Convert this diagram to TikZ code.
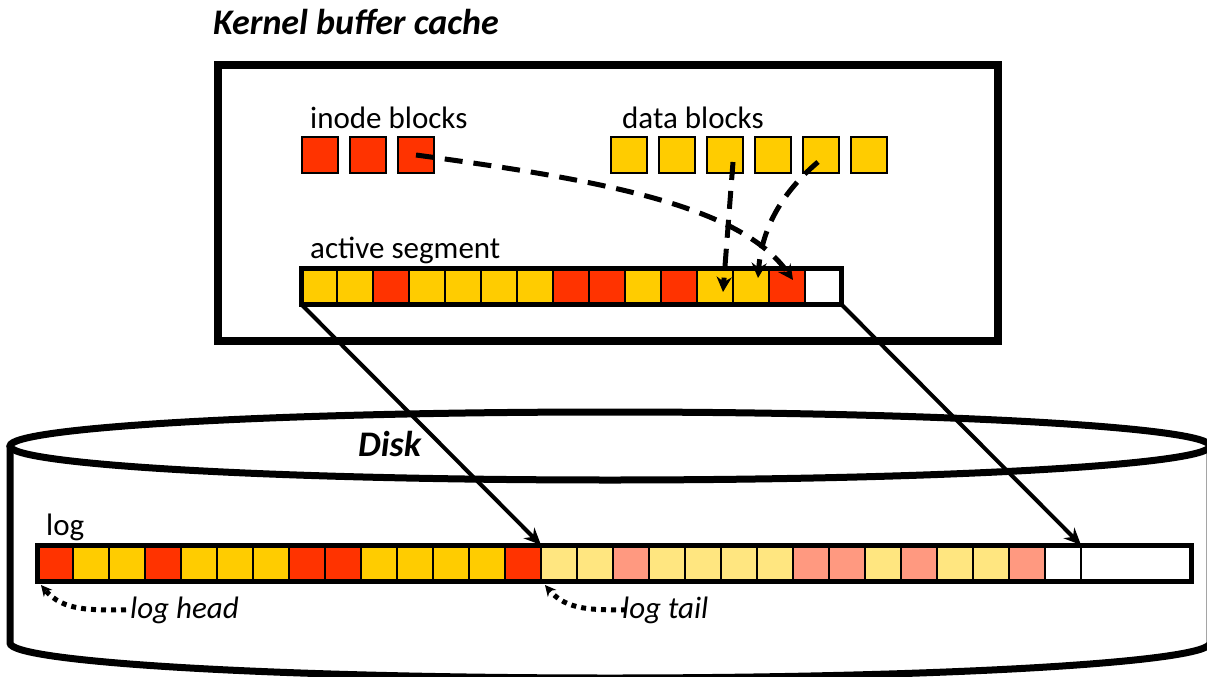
\documentclass[tikz,border=0pt]{standalone}
\usepackage{fontspec}
\setmainfont{Carlito}
\usetikzlibrary{positioning,arrows.meta}

\definecolor{blockred}{HTML}{FF3300}
\definecolor{blockyellow}{HTML}{FFCC00}
\definecolor{palered}{HTML}{FF9980}
\definecolor{paleyellow}{HTML}{FFE680}

\tikzset{
  blk/.style={draw, line width=2pt, minimum size=36pt, inner sep=0pt, outer sep=0pt},
  cell/.style={draw, line width=2.5pt, minimum width=36pt, minimum height=36pt, inner sep=0pt, outer sep=0pt},
  lbl/.style={anchor=base west, inner sep=0pt, font=\fontsize{31}{37}\selectfont},
  itlbl/.style={lbl, font=\fontsize{31}{37}\selectfont\itshape},
  ttl/.style={anchor=base west, inner sep=0pt, font=\fontsize{36}{43}\selectfont\bfseries\itshape},
  disk/.style={line width=7pt},
  maparrow/.style={line width=4pt, -{Stealth[length=17pt,width=15pt]}},
  dasharrow/.style={line width=5pt, dash pattern=on 18pt off 11pt, -{Stealth[length=15pt,width=15pt]}},
  dotarrow/.style={line width=5pt, dash pattern=on 5pt off 5pt, -{Stealth[length=11pt,width=11pt]}}
}

\begin{document}
\begin{tikzpicture}[x=1pt, y=-1pt]
\useasboundingbox (0,0) rectangle (1207,677);

% kernel buffer cache
\node[ttl] (ttl) at (213,35) {Kernel buffer cache};
\draw[line width=8pt] (218,65) rectangle (998,341);

\node[lbl] (inodelbl) at (310,128) {inode blocks};
\node[blk, fill=blockred] (inode1) at (320,155) {};
\node[blk, fill=blockred, right=12pt of inode1] (inode2) {};
\node[blk, fill=blockred, right=12pt of inode2] (inode3) {};

\node[lbl] (datalbl) at (622,128) {data blocks};
\node[blk, fill=blockyellow] (data1) at (629,155) {};
\node[blk, fill=blockyellow, right=12pt of data1] (data2) {};
\node[blk, fill=blockyellow, right=12pt of data2] (data3) {};
\node[blk, fill=blockyellow, right=12pt of data3] (data4) {};
\node[blk, fill=blockyellow, right=12pt of data4] (data5) {};
\node[blk, fill=blockyellow, right=12pt of data5] (data6) {};

% active segment
\node[lbl] (seglbl) at (310,258) {active segment};
\node[cell, fill=blockyellow] (seg1) at (319,286) {};
\node[cell, fill=blockyellow, right=0pt of seg1] (seg2) {};
\node[cell, fill=blockred, right=0pt of seg2] (seg3) {};
\node[cell, fill=blockyellow, right=0pt of seg3] (seg4) {};
\node[cell, fill=blockyellow, right=0pt of seg4] (seg5) {};
\node[cell, fill=blockyellow, right=0pt of seg5] (seg6) {};
\node[cell, fill=blockyellow, right=0pt of seg6] (seg7) {};
\node[cell, fill=blockred, right=0pt of seg7] (seg8) {};
\node[cell, fill=blockred, right=0pt of seg8] (seg9) {};
\node[cell, fill=blockyellow, right=0pt of seg9] (seg10) {};
\node[cell, fill=blockred, right=0pt of seg10] (seg11) {};
\node[cell, fill=blockyellow, right=0pt of seg11] (seg12) {};
\node[cell, fill=blockyellow, right=0pt of seg12] (seg13) {};
\node[cell, fill=blockred, right=0pt of seg13] (seg14) {};
\node[cell, fill=white, right=0pt of seg14] (seg15) {};
\draw[line width=5pt] (seg1.north west) rectangle (seg15.south east);

% disk
\draw[disk] (610,446) ellipse [x radius=600pt, y radius=34pt];
\draw[disk] (10,446) -- (10,643) arc[start angle=180, end angle=360, x radius=600pt, y radius=35pt] -- (1210,446);
\node[ttl] (disklbl) at (358,456) {Disk};

% log
\node[lbl] (loglbl) at (46,535) {log};
\node[cell, fill=blockred] (log1) at (55,563) {};
\node[cell, fill=blockyellow, right=0pt of log1] (log2) {};
\node[cell, fill=blockyellow, right=0pt of log2] (log3) {};
\node[cell, fill=blockred, right=0pt of log3] (log4) {};
\node[cell, fill=blockyellow, right=0pt of log4] (log5) {};
\node[cell, fill=blockyellow, right=0pt of log5] (log6) {};
\node[cell, fill=blockyellow, right=0pt of log6] (log7) {};
\node[cell, fill=blockred, right=0pt of log7] (log8) {};
\node[cell, fill=blockred, right=0pt of log8] (log9) {};
\node[cell, fill=blockyellow, right=0pt of log9] (log10) {};
\node[cell, fill=blockyellow, right=0pt of log10] (log11) {};
\node[cell, fill=blockyellow, right=0pt of log11] (log12) {};
\node[cell, fill=blockyellow, right=0pt of log12] (log13) {};
\node[cell, fill=blockred, right=0pt of log13] (log14) {};

\node[cell, fill=paleyellow, right=0pt of log14] (log15) {};
\node[cell, fill=paleyellow, right=0pt of log15] (log16) {};
\node[cell, fill=palered, right=0pt of log16] (log17) {};
\node[cell, fill=paleyellow, right=0pt of log17] (log18) {};
\node[cell, fill=paleyellow, right=0pt of log18] (log19) {};
\node[cell, fill=paleyellow, right=0pt of log19] (log20) {};
\node[cell, fill=paleyellow, right=0pt of log20] (log21) {};
\node[cell, fill=palered, right=0pt of log21] (log22) {};
\node[cell, fill=palered, right=0pt of log22] (log23) {};
\node[cell, fill=paleyellow, right=0pt of log23] (log24) {};
\node[cell, fill=palered, right=0pt of log24] (log25) {};
\node[cell, fill=paleyellow, right=0pt of log25] (log26) {};
\node[cell, fill=paleyellow, right=0pt of log26] (log27) {};
\node[cell, fill=palered, right=0pt of log27] (log28) {};
\node[cell, fill=white, right=0pt of log28] (log29) {};
\node[cell, fill=white, minimum width=110pt, right=0pt of log29] (log30) {};
\draw[line width=5pt] (log1.north west) rectangle (log30.south east);

\node[itlbl] (lhead) at (130,618) {log head};
\node[itlbl] (ltail) at (622,618) {log tail};

% arrows
\draw[dasharrow] (inode3.center) .. controls (600,180) and (740,205) .. ([shift={(6,-6)}]seg14.center);
\draw[dasharrow] ([shift={(8,7)}]data3.center) -- ([shift={(8,6)}]seg12.center);
\draw[dasharrow] ([shift={(-3,7)}]data5.center) .. controls (785,190) and (762,225) .. ([shift={(7,-8)}]seg13.center);

\draw[maparrow] (seg1.south west) -- (log15.north west);
\draw[maparrow] (seg15.south east) -- (log29.north east);

\draw[dotarrow] ([xshift=-4pt]lhead.west) to[out=180, in=-50] ([shift={(4,4)}]log1.south west);
\draw[dotarrow] ([xshift=4pt]ltail.west) to[out=180, in=-50] ([shift={(4,4)}]log15.south west);
\end{tikzpicture}
\end{document}
